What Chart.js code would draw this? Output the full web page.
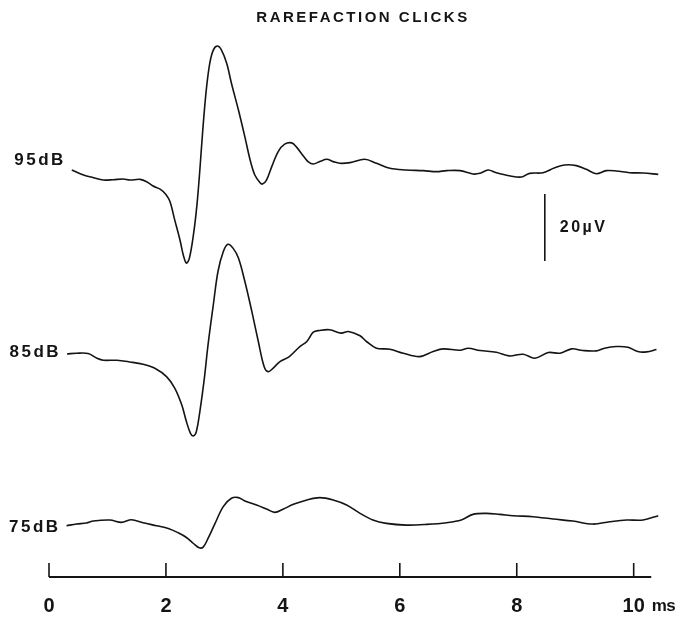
<!DOCTYPE html>
<html>
<head>
<meta charset="utf-8">
<script src="https://cdn.jsdelivr.net/npm/chart.js@4.4.1/dist/chart.umd.min.js"></script>
<style>
  html, body { margin: 0; padding: 0; background: #fff; }
  #wrap { width: 685px; height: 624px; }
</style>
</head>
<body>
<div id="wrap"><canvas id="abrChart"></canvas></div>
<script>
// click levels, one averaged response each
const levels = ['95dB', '85dB', '75dB'];

// time (ms) and amplitude (µV, relative to the pre-stimulus baseline)
const t95 = [0.39, 0.59, 0.76, 0.93, 1.10, 1.27, 1.38, 1.56, 1.67, 1.78, 1.90, 2.00, 2.07, 2.15, 2.24, 2.30, 2.35,
  2.40, 2.47, 2.53, 2.58, 2.63, 2.69, 2.75, 2.81, 2.88, 2.95, 3.04, 3.12, 3.24, 3.35, 3.44, 3.52, 3.61, 3.65, 3.72,
  3.81, 3.92, 4.03, 4.15, 4.23, 4.35, 4.43, 4.52, 4.63, 4.75, 4.86, 4.97, 5.15, 5.40, 5.60, 5.83, 6.11, 6.40, 6.63,
  6.80, 7.03, 7.25, 7.37, 7.51, 7.65, 7.87, 8.08, 8.22, 8.45, 8.65, 8.82, 9.02, 9.19, 9.36, 9.53, 9.70, 9.93, 10.16, 10.42];
const v95 = [2.4, 0.9, 0.1, -0.6, -0.5, -0.3, -0.6, -0.4, -1.1, -2.4, -3.3, -4.9, -7.1, -12.5, -18.5, -23.2, -25.4,
  -24.0, -17.0, -8.1, 2.4, 14.3, 26.3, 34.3, 38.2, 39.4, 38.2, 34.2, 28.3, 20.3, 12.3, 5.4, 0.9, -1.4, -1.8, -0.6,
  3.4, 7.9, 10.1, 10.5, 9.3, 6.6, 4.9, 4.2, 4.9, 5.6, 4.9, 4.4, 4.6, 5.6, 4.4, 2.9, 2.4, 2.2, 1.9,
  2.2, 2.2, 1.2, 1.4, 2.4, 1.6, 0.7, 0.3, 1.4, 1.6, 3.1, 3.9, 3.7, 2.6, 1.3, 2.2, 2.1, 1.6, 1.5, 1.1];

const t85 = [0.31, 0.47, 0.67, 0.82, 0.93, 1.16, 1.38, 1.61, 1.81, 2.01, 2.15, 2.27, 2.35, 2.42, 2.47, 2.52, 2.58,
  2.65, 2.72, 2.81, 2.89, 2.98, 3.06, 3.15, 3.24, 3.35, 3.47, 3.58, 3.68, 3.75, 3.83, 3.95, 4.11, 4.29, 4.41, 4.52,
  4.63, 4.80, 5.00, 5.12, 5.32, 5.43, 5.60, 5.83, 6.06, 6.34, 6.57, 6.74, 7.03, 7.17, 7.37, 7.65, 7.87, 8.11, 8.31,
  8.54, 8.74, 8.94, 9.13, 9.36, 9.50, 9.70, 9.90, 10.07, 10.22, 10.39];
const v85 = [0.6, 0.8, 0.7, -0.7, -1.3, -1.3, -1.8, -2.5, -3.7, -6.2, -9.6, -14.6, -19.6, -23.1, -23.9, -22.6, -16.6,
  -7.7, 3.3, 15.2, 25.2, 31.1, 33.3, 32.1, 29.2, 22.2, 13.2, 4.3, -3.2, -4.7, -3.7, -1.7, -0.2, 2.8, 4.3, 7.1,
  7.6, 7.8, 6.8, 7.3, 6.0, 4.3, 2.3, 2.0, 0.8, -0.2, 1.3, 2.1, 1.7, 2.3, 1.6, 1.1, 0.0, 0.5, -0.7,
  1.0, 0.8, 2.1, 1.6, 1.5, 2.3, 2.8, 2.6, 1.3, 1.2, 1.9];

const t75 = [0.30, 0.47, 0.64, 0.76, 1.04, 1.24, 1.41, 1.61, 1.84, 2.04, 2.21, 2.35, 2.47, 2.57, 2.64, 2.72, 2.84,
  2.98, 3.12, 3.24, 3.35, 3.55, 3.72, 3.86, 4.01, 4.18, 4.41, 4.63, 4.86, 5.09, 5.32, 5.54, 5.77, 6.11, 6.46, 6.80,
  7.05, 7.25, 7.48, 7.71, 7.94, 8.28, 8.62, 8.96, 9.30, 9.59, 9.88, 10.16, 10.42];
const v75 = [-1.1, -0.6, -0.3, 0.3, 0.6, -0.1, 0.7, -0.2, -1.1, -1.9, -3.2, -4.6, -6.4, -7.7, -7.4, -4.9, -0.4,
  4.6, 7.1, 7.3, 6.3, 5.1, 3.9, 2.9, 3.9, 5.3, 6.6, 7.3, 6.6, 5.1, 2.6, 0.6, -0.4, -0.9, -0.7, -0.2,
  0.6, 2.3, 2.6, 2.3, 1.9, 1.6, 0.9, 0.3, -0.6, 0.1, 0.6, 0.6, 1.9];

const xTicks = [0, 2, 4, 6, 8, 10];

// calibration bar
const barUV = 20;
const barTime = 8.48;
const barBase = 94.3;

// where each trace sits on the shared µV axis
const offsets = [119.1, 66.0, 16.4];
const labelDy = [-10, -2, 2];

const FONT = "'Liberation Sans', Arial, Helvetica, sans-serif";
const INK = '#141414';

const traces = [[t95, v95], [t85, v85], [t75, v75]];
const datasets = traces.map(([t, v], i) => ({
    label: levels[i],
    data: t.map((x, k) => ({ x: x, y: v[k] + offsets[i] })),
    borderColor: INK,
    borderWidth: 1.6,
    pointRadius: 0,
    tension: 0.35,
    fill: false,
}));

datasets.push({
    label: barUV + 'µV',
    data: [{ x: barTime, y: barBase }, { x: barTime, y: barBase + barUV }],
    borderColor: INK,
    borderWidth: 1.6,
    pointRadius: 0,
    fill: false,
});

const annotations = {
    id: 'annotations',
    afterDatasetsDraw(chart) {
        const ctx = chart.ctx;
        const xs = chart.scales.x;
        const ys = chart.scales.y;
        const bottom = chart.chartArea.bottom;
        ctx.save();
        ctx.fillStyle = INK;
        ctx.strokeStyle = INK;

        // title
        ctx.font = 'bold 15px ' + FONT;
        ctx.letterSpacing = '2.5px';
        ctx.textAlign = 'center';
        ctx.textBaseline = 'middle';
        ctx.fillText('RAREFACTION CLICKS', 363, 18);

        // level labels, left of each trace start
        ctx.font = 'bold 17px ' + FONT;
        ctx.letterSpacing = '2.5px';
        ctx.textAlign = 'right';
        traces.forEach(([t, v], i) => {
            const px = xs.getPixelForValue(t[0]);
            const py = ys.getPixelForValue(v[0] + offsets[i]);
            ctx.fillText(levels[i], px - 6, py + labelDy[i]);
        });

        // calibration label
        const barPx = xs.getPixelForValue(barTime);
        const barMid = ys.getPixelForValue(barBase + barUV / 2);
        ctx.font = 'bold 16px ' + FONT;
        ctx.letterSpacing = '2.5px';
        ctx.textAlign = 'left';
        ctx.fillText(barUV + 'µV', barPx + 15, barMid);

        // time axis: baseline with upward ticks
        ctx.letterSpacing = '0px';
        ctx.lineWidth = 2;
        ctx.beginPath();
        ctx.moveTo(xs.getPixelForValue(0), bottom);
        ctx.lineTo(xs.getPixelForValue(10.3), bottom);
        ctx.stroke();
        ctx.lineWidth = 1.6;
        xTicks.forEach(v => {
            const px = xs.getPixelForValue(v);
            ctx.beginPath();
            ctx.moveTo(px, bottom);
            ctx.lineTo(px, bottom - 14);
            ctx.stroke();
        });

        // unit after the last tick label
        ctx.font = 'bold 17px ' + FONT;
        ctx.letterSpacing = '-0.5px';
        ctx.textAlign = 'left';
        ctx.textBaseline = 'top';
        ctx.fillText('ms', xs.getPixelForValue(10) + 18, bottom + 21);
        ctx.restore();
    }
};

const ctx = document.getElementById('abrChart');

new Chart(ctx, {
    type: 'line',
    data: { datasets: datasets },
    options: {
        responsive: true,
        maintainAspectRatio: false,
        animation: false,
        layout: {
            padding: { left: 49, right: 25, top: 36, bottom: 4 }
        },
        plugins: {
            legend: { display: false },
            title: { display: false },
            tooltip: { enabled: false }
        },
        scales: {
            x: {
                type: 'linear',
                min: 0,
                max: 10.45,
                grid: { display: false, drawTicks: false },
                border: { display: false },
                afterBuildTicks: axis => {
                    axis.ticks = xTicks.map(v => ({ value: v }));
                },
                afterFit: axis => {
                    axis.height = 43;
                },
                ticks: {
                    includeBounds: false,
                    autoSkip: false,
                    maxRotation: 0,
                    padding: 17,
                    color: INK,
                    font: { family: FONT, size: 20, weight: 'bold' }
                }
            },
            y: {
                display: false,
                min: 0,
                max: 161.5
            }
        }
    },
    plugins: [annotations]
});
</script>
</body>
</html>
